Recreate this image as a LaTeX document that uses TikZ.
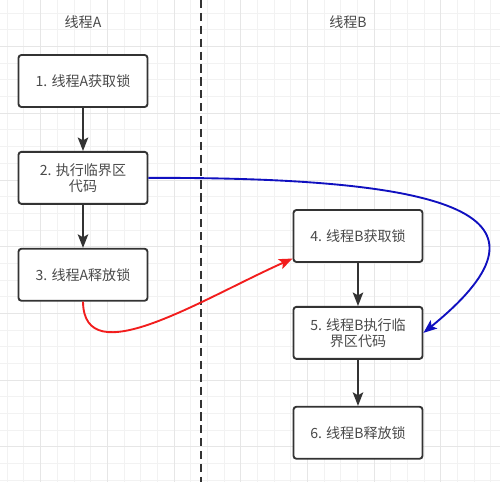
\documentclass[tikz,border=0pt]{standalone}
\usepackage{fontspec}
\newfontfamily\cjk{Noto Sans CJK SC}
\usepackage{tikz}
\usetikzlibrary{positioning}
\usetikzlibrary{arrows.meta}
\definecolor{linegray}{HTML}{333333}
\definecolor{textgray}{HTML}{4A4A4A}
\definecolor{gridminor}{HTML}{F2F2F2}
\definecolor{gridmajor}{HTML}{E6E6E6}
\definecolor{lockred}{HTML}{F21D1D}
\definecolor{lockblue}{HTML}{1010C0}

\begin{document}
\begin{tikzpicture}[x=0.03cm,y=-0.03cm]
\tikzstyle{box}=[rectangle, rounded corners=2.5pt, draw=linegray, line width=1.6pt, fill=white, minimum width=3.87cm, minimum height=1.56cm, align=center, text=textgray, font=\cjk\fontsize{12}{14}\selectfont, node distance=1.29cm]
\tikzstyle{title}=[text=textgray, font=\cjk\fontsize{12}{14}\selectfont]
\tikzstyle{connect}=[-{Stealth[length=11.5pt,width=9pt,inset=2.5pt]}, line width=1.6pt]
\tikzstyle{lane}=[draw=linegray, line width=1.6pt, dash pattern=on 7pt off 4pt]

\useasboundingbox (0,0) rectangle (500,482);
\fill[white] (0,0) rectangle (500,482);
% background grid
\foreach \i in {0,...,29} {
  \draw[gridminor, line width=0.8pt] ({7.3+16.667*\i},0) -- ({7.3+16.667*\i},482);
  \draw[gridminor, line width=0.8pt] (0,{13.3+16.667*\i}) -- (500,{13.3+16.667*\i});
}
\foreach \i in {0,...,7} {
  \draw[gridmajor, line width=0.8pt] ({40.7+66.667*\i},0) -- ({40.7+66.667*\i},482);
  \draw[gridmajor, line width=0.8pt] (0,{46.7+66.667*\i}) -- (500,{46.7+66.667*\i});
}

% lane separator
\coordinate (top) at (201,0);
\coordinate (bottom) at (201,482);
\draw[lane] (top) -- (bottom);

\node[title] (ta) at (83,22) {线程A};
\node[title] (tb) at (348,22) {线程B};

% thread A
\node[box] (a1) at (83,81) {1. 线程A获取锁};
\node[box] (a2) [below=of a1] {2. 执行临界区\\代码};
\node[box] (a3) [below=of a2] {3. 线程A释放锁};

% thread B
\node[box] (b4) at (358,236) {4. 线程B获取锁};
\node[box] (b5) [below=of b4] {5. 线程B执行临\\界区代码};
\node[box] (b6) [below=1.38cm of b5] {6. 线程B释放锁};

\draw[connect, linegray] (a1) -- (a2);
\draw[connect, linegray] (a2) -- (a3);
\draw[connect, linegray] (b4) -- (b5);
\draw[connect, linegray] (b5) -- (b6);

\draw[connect, lockblue] (a2.east) .. controls (475,177) and (562,220) .. (b5.east);
\draw[connect, lockred] (a3.south) .. controls (84,374) and (200,300) .. (b4.-161);
\end{tikzpicture}
\end{document}
